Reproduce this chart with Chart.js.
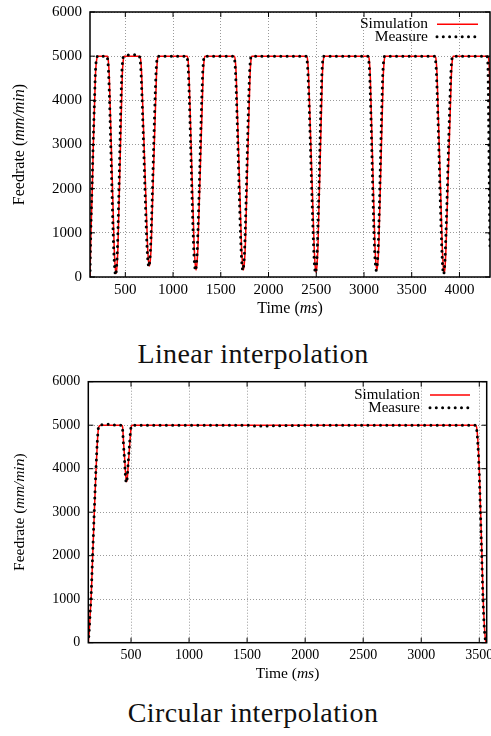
<!DOCTYPE html>
<html>
<head>
<meta charset="utf-8">
<script src="https://cdn.jsdelivr.net/npm/chart.js@4/dist/chart.umd.min.js"></script>
<style>
  body { margin: 0; width: 491px; height: 736px; background: #fff; position: relative; overflow: hidden; }
  .plot { position: absolute; left: 0; }
  .caption { position: absolute; left: 0; width: 506px; text-align: center;
             font-family: "Liberation Serif", serif; font-size: 28px; line-height: 28px;
             letter-spacing: 0.4px; color: #111; }
</style>
</head>
<body>
<div class="plot" style="top:0"><canvas id="linChart" width="491" height="325"></canvas></div>
<div class="caption" style="top:340px">Linear interpolation</div>
<div class="plot" style="top:370px"><canvas id="circChart" width="491" height="320"></canvas></div>
<div class="caption" style="top:699px">Circular interpolation</div>
<script>
// Linear interpolation - simulation (ms, mm/min)
const linSimTime = [130, 133, 140, 154, 165, 179, 190, 202, 215,
  312, 322, 332, 383, 393, 403, 413, 423, 468, 478, 488,
  652, 662, 672, 732, 742, 752, 762, 772, 826, 836, 846,
  1148, 1158, 1168, 1221, 1231, 1241, 1251, 1261, 1315, 1325, 1335,
  1642, 1652, 1662, 1717, 1727, 1737, 1747, 1757, 1806, 1816, 1826,
  2400, 2410, 2420, 2478, 2488, 2498, 2508, 2518, 2564, 2574, 2584,
  3046, 3056, 3066, 3115, 3125, 3135, 3145, 3155, 3202, 3212, 3222,
  3746, 3756, 3766, 3820, 3830, 3840, 3850, 3860, 3915, 3925, 3935,
  4300, 4310, 4318, 4324, 4335, 4345];
const linSimFeed = [0, 300, 1000, 2000, 3000, 4000, 4700, 4950, 5000,
  5000, 4900, 4550, 700, 250, 80, 250, 700, 4550, 4900, 5000,
  5000, 4900, 4550, 750, 380, 250, 380, 750, 4550, 4900, 5000,
  5000, 4900, 4550, 700, 320, 160, 320, 700, 4550, 4900, 5000,
  5000, 4900, 4550, 700, 320, 160, 320, 700, 4550, 4900, 5000,
  5000, 4900, 4550, 700, 270, 110, 270, 700, 4550, 4900, 5000,
  5000, 4900, 4550, 700, 320, 160, 320, 700, 4550, 4900, 5000,
  5000, 4900, 4550, 700, 250, 80, 250, 700, 4550, 4900, 5000,
  5000, 4850, 4300, 3500, 1800, 500];

// Linear interpolation - measure
const linMeasTime = [130, 132, 138, 151, 163, 177, 188, 200, 212,
  306, 316, 326, 377, 388, 398, 408, 418, 462, 472, 482, 560, 630,
  646, 656, 666, 726, 736, 746, 756, 766, 820, 830, 840,
  1142, 1152, 1162, 1215, 1225, 1235, 1245, 1255, 1309, 1319, 1329,
  1636, 1646, 1656, 1711, 1721, 1731, 1741, 1751, 1800, 1810, 1820,
  2394, 2404, 2414, 2472, 2482, 2492, 2502, 2512, 2558, 2568, 2578,
  3040, 3050, 3060, 3109, 3119, 3129, 3139, 3149, 3196, 3206, 3216,
  3740, 3750, 3760, 3814, 3824, 3834, 3844, 3854, 3909, 3919, 3929,
  4288, 4298, 4306, 4313, 4320, 4330];
const linMeasFeed = [0, 300, 1000, 2000, 3000, 4000, 4700, 4950, 5000,
  5000, 4900, 4550, 700, 220, 40, 220, 700, 4550, 4900, 5000, 5030, 5030,
  5000, 4900, 4550, 750, 370, 230, 370, 750, 4550, 4900, 5000,
  5000, 4900, 4550, 700, 300, 150, 300, 700, 4550, 4900, 5000,
  5000, 4900, 4550, 700, 300, 150, 300, 700, 4550, 4900, 5000,
  5000, 4900, 4550, 700, 250, 90, 250, 700, 4550, 4900, 5000,
  5000, 4900, 4550, 700, 300, 150, 300, 700, 4550, 4900, 5000,
  5000, 4900, 4550, 700, 230, 60, 230, 700, 4550, 4900, 5000,
  5000, 4800, 3500, 2000, 700, 150];

// Circular interpolation - simulation
const circSimTime = [132, 140, 148, 156, 170, 184, 199, 210, 218, 230, 245,
  422, 428, 436, 446, 455, 462, 468, 478, 490, 500, 510,
  3470, 3480, 3490, 3500, 3512, 3523, 3534, 3545, 3555, 3562];
const circSimFeed = [0, 250, 650, 1000, 2000, 3000, 4000, 4600, 4900, 4990, 5000,
  5000, 4950, 4600, 4200, 3820, 3700, 3780, 4150, 4600, 4920, 5000,
  5000, 4900, 4550, 4000, 3000, 2000, 1000, 350, 50, 0];

// Circular interpolation - measure
const circMeasTime = [132, 139, 147, 155, 169, 183, 198, 209, 217, 228, 240, 290, 330, 370,
  420, 426, 434, 444, 453, 460, 466, 476, 488, 498, 508,
  700, 1150, 1500, 1560, 2100, 2700, 3100,
  3468, 3478, 3488, 3498, 3510, 3521, 3532, 3543, 3553, 3561];
const circMeasFeed = [0, 250, 650, 1000, 2000, 3000, 4000, 4600, 4900, 5000, 5010, 5020, 5020, 5000,
  5000, 4950, 4600, 4200, 3800, 3680, 3760, 4150, 4600, 4920, 5000,
  5000, 5000, 5000, 4980, 5000, 5000, 5000,
  5000, 4900, 4550, 4000, 3000, 2000, 1000, 350, 50, 0];

// tick values
const linXTicks = [500, 1000, 1500, 2000, 2500, 3000, 3500, 4000];
const circXTicks = [500, 1000, 1500, 2000, 2500, 3000, 3500];
const feedTicks = [0, 1000, 2000, 3000, 4000, 5000, 6000];
const seriesNames = ["Simulation", "Measure"];

// axis titles, [text, italic]
const xTitleParts = [["Time (", false], ["ms", true], [")", false]];
const yTitleParts = [["Feedrate (", false], ["mm/min", true], [")", false]];

const FONT = "'Liberation Serif', 'Times New Roman', serif";

function drawParts(ctx, parts, cx, cy, size) {
    const fonts = parts.map(p => (p[1] ? "italic " : "") + size + "px " + FONT);
    let total = 0;
    const widths = parts.map((p, i) => { ctx.font = fonts[i]; const w = ctx.measureText(p[0]).width; total += w; return w; });
    let x = cx - total / 2;
    ctx.textAlign = "left";
    ctx.textBaseline = "middle";
    parts.forEach((p, i) => {
        ctx.font = fonts[i];
        ctx.fillText(p[0], x, cy);
        x += widths[i];
    });
}

// gnuplot-style frame, inward ticks, axis titles and key
const gnuFrame = {
    id: "gnuFrame",
    afterDraw(chart, args, opts) {
        const ctx = chart.ctx;
        const a = chart.chartArea;
        const xs = chart.scales.x, ys = chart.scales.y;
        ctx.save();
        ctx.strokeStyle = "#000";
        ctx.lineWidth = 1;
        ctx.beginPath();
        xs.ticks.forEach(t => {
            const px = xs.getPixelForValue(t.value);
            ctx.moveTo(px, a.bottom); ctx.lineTo(px, a.bottom - 5);
            ctx.moveTo(px, a.top); ctx.lineTo(px, a.top + 5);
        });
        ys.ticks.forEach(t => {
            const py = ys.getPixelForValue(t.value);
            ctx.moveTo(a.left, py); ctx.lineTo(a.left + 5, py);
            ctx.moveTo(a.right, py); ctx.lineTo(a.right - 5, py);
        });
        ctx.stroke();
        ctx.lineWidth = 1.5;
        ctx.strokeRect(a.left, a.top, a.right - a.left, a.bottom - a.top);

        // axis titles
        ctx.fillStyle = "#000";
        drawParts(ctx, xTitleParts, (a.left + a.right) / 2, opts.xTitleY, opts.titleSize);
        ctx.save();
        ctx.translate(opts.yTitleX, (a.top + a.bottom) / 2);
        ctx.rotate(-Math.PI / 2);
        drawParts(ctx, yTitleParts, 0, 0, opts.titleSize);
        ctx.restore();

        // key
        ctx.font = opts.fontSize + "px " + FONT;
        ctx.textAlign = "right";
        ctx.textBaseline = "middle";
        chart.data.datasets.forEach((ds, i) => {
            const yy = a.top + opts.row1 + i * opts.rowStep;
            ctx.fillStyle = "#000";
            ctx.fillText(ds.label, a.right - opts.textRight, yy);
            ctx.beginPath();
            ctx.strokeStyle = ds.borderColor;
            ctx.lineWidth = ds.borderWidth;
            ctx.lineCap = ds.borderCapStyle || "butt";
            ctx.setLineDash(ds.borderDash || []);
            ctx.moveTo(a.right - opts.lineLeft, yy);
            ctx.lineTo(a.right - opts.lineRight, yy);
            ctx.stroke();
            ctx.setLineDash([]);
        });
        ctx.restore();
    }
};

function pairs(xs, ys) {
    return xs.map((x, i) => ({ x: x, y: ys[i] }));
}

function drawFeedChart(id, simT, simV, measT, measV, xTicks, g) {
    const canvas = document.getElementById(id);
    if (!canvas)
        return;
    return new Chart(canvas.getContext("2d"), {
        type: "line",
        data: {
            datasets: [{
                label: seriesNames[0],
                data: pairs(simT, simV),
                borderColor: "#ff0000",
                borderWidth: 1.5,
                pointRadius: 0,
                fill: false,
                cubicInterpolationMode: "monotone",
                order: 2
            }, {
                label: seriesNames[1],
                data: pairs(measT, measV),
                borderColor: "#000000",
                borderWidth: 3,
                borderDash: [0, 6.3],
                borderCapStyle: "round",
                pointRadius: 0,
                fill: false,
                cubicInterpolationMode: "monotone",
                order: 1
            }]
        },
        options: {
            responsive: false,
            animation: false,
            devicePixelRatio: 1,
            layout: { padding: { left: 0, top: g.top, right: g.right, bottom: 0 } },
            plugins: {
                legend: { display: false },
                tooltip: { enabled: false },
                gnuFrame: g.key
            },
            scales: {
                x: {
                    type: "linear",
                    min: g.xMin,
                    max: g.xMax,
                    afterBuildTicks: s => { s.ticks = xTicks.map(v => ({ value: v })); },
                    ticks: {
                        autoSkip: false,
                        maxRotation: 0,
                        padding: 4,
                        color: "#000",
                        font: { family: FONT, size: g.tickSize },
                        callback: v => String(v)
                    },
                    grid: { color: "#9a9a9a", lineWidth: 1, drawTicks: false },
                    border: { display: false, dash: [1, 2] },
                    afterFit: s => { s.height = g.xHeight; s.paddingLeft = 0; s.paddingRight = 0; }
                },
                y: {
                    min: 0,
                    max: 6000,
                    afterBuildTicks: s => { s.ticks = feedTicks.map(v => ({ value: v })); },
                    ticks: {
                        padding: 8,
                        color: "#000",
                        font: { family: FONT, size: g.tickSize },
                        callback: v => String(v)
                    },
                    grid: { color: "#9a9a9a", lineWidth: 1, drawTicks: false },
                    border: { display: false, dash: [1, 2] },
                    afterFit: s => { s.width = g.left; s.paddingTop = 0; s.paddingBottom = 0; }
                }
            }
        },
        plugins: [gnuFrame]
    });
}

drawFeedChart("linChart", linSimTime, linSimFeed, linMeasTime, linMeasFeed, linXTicks, {
    left: 90, top: 12, right: 1, xHeight: 48,
    xMin: 130, xMax: 4320, tickSize: 15,
    key: { fontSize: 15.5, textRight: 62, lineLeft: 53, lineRight: 12, row1: 12.3, rowStep: 12.4,
           titleSize: 16, xTitleY: 309, yTitleX: 20 }
});

drawFeedChart("circChart", circSimTime, circSimFeed, circMeasTime, circMeasFeed, circXTicks, {
    left: 88.3, top: 11.7, right: 4.3, xHeight: 47.3,
    xMin: 132, xMax: 3564, tickSize: 14,
    key: { fontSize: 15, textRight: 66.7, lineLeft: 56.7, lineRight: 16.7, row1: 13.3, rowStep: 12.7,
           titleSize: 15.5, xTitleY: 304, yTitleX: 20 }
});
</script>
</body>
</html>
